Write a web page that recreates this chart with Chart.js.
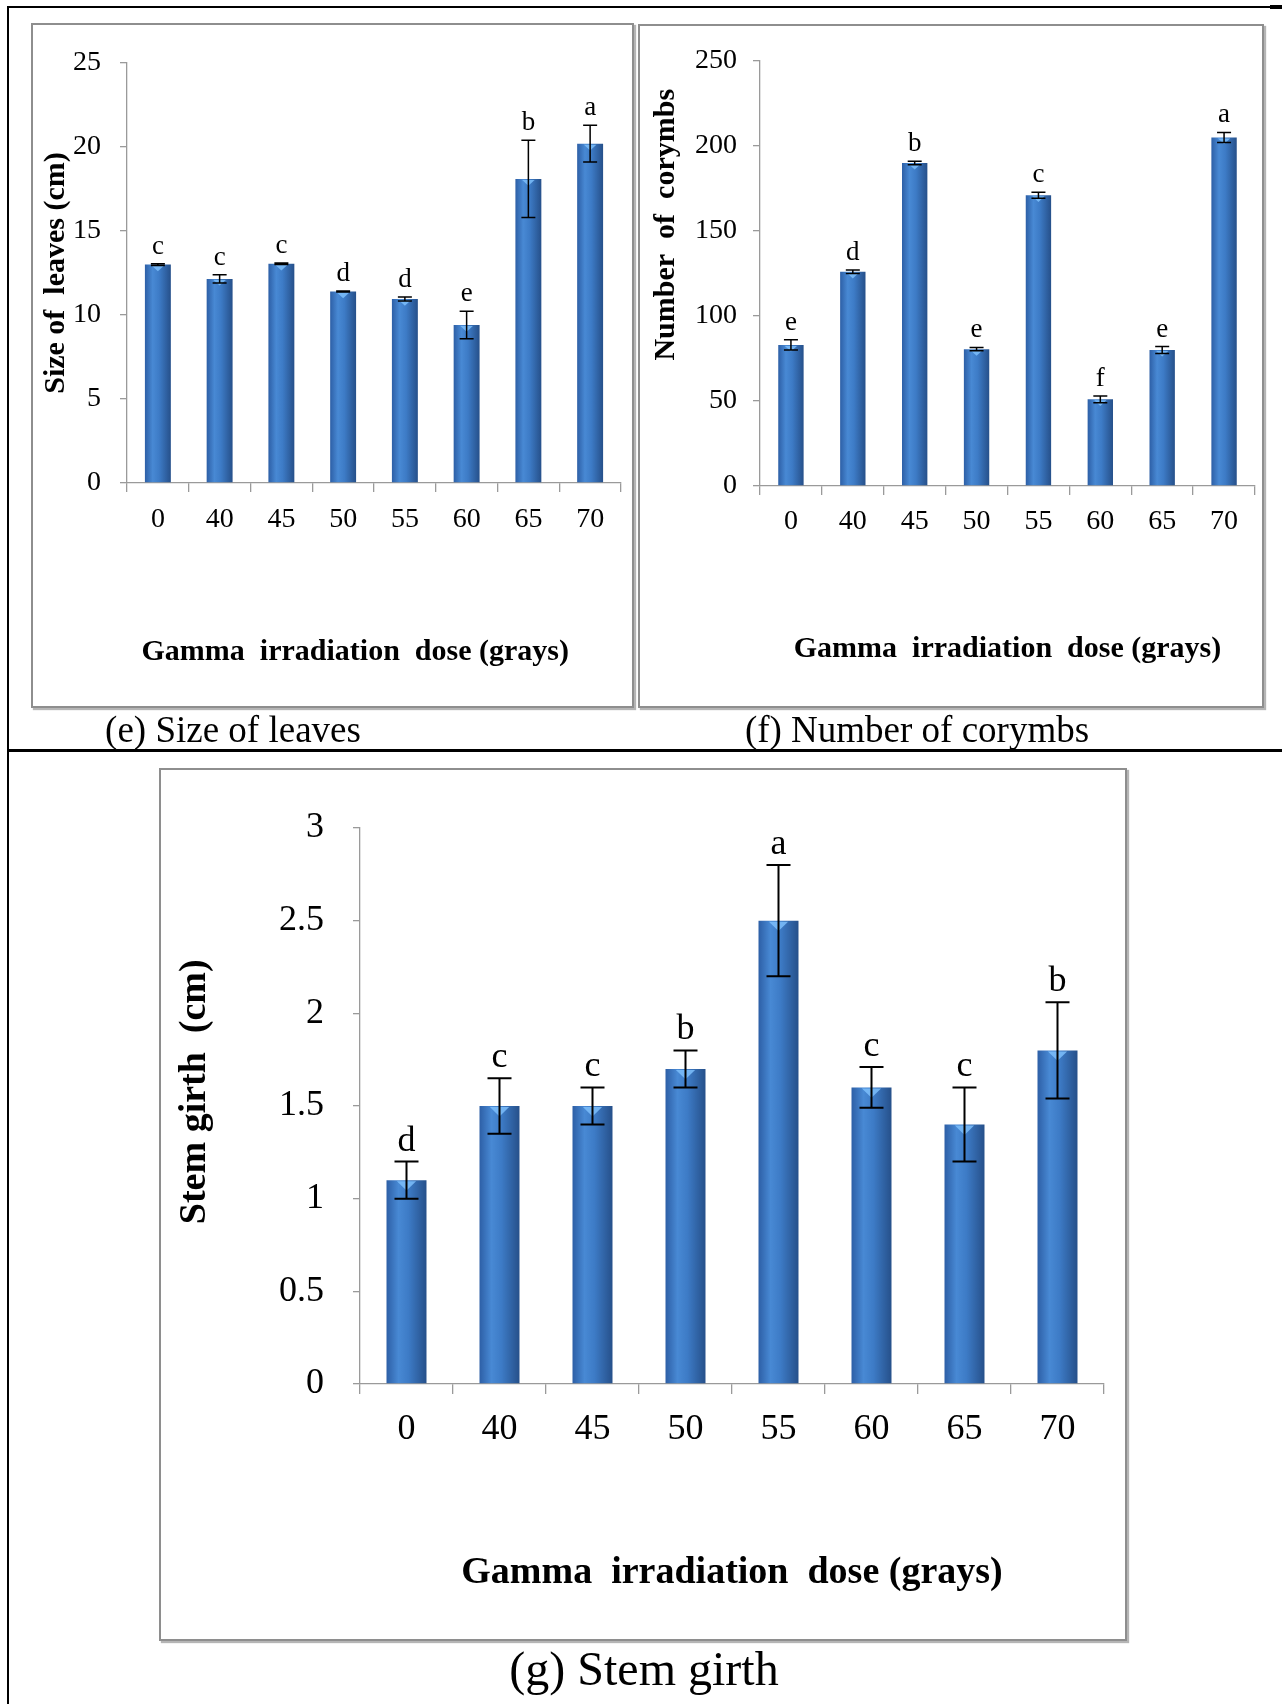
<!DOCTYPE html>
<html>
<head>
<meta charset="utf-8">
<script src="https://cdn.jsdelivr.net/npm/chart.js@4.4.1/dist/chart.umd.min.js"></script>
<style>
  body { margin: 0; background: #fff; width: 1282px; height: 1704px; position: relative; overflow: hidden; font-family: "Liberation Serif", serif; }
  .line { position: absolute; background: #000; }
  .box { position: absolute; border: 2px solid #8e8e8e; box-shadow: 2px 2px 1px #b5b5b5; box-sizing: border-box; }
  canvas { position: absolute; }
  .cap { position: absolute; transform: translate(-50%, -50%); white-space: nowrap; color: #000; }
</style>
</head>
<body>
<div class="line" style="left:8px;top:6px;width:1274px;height:2px"></div>
<div class="line" style="left:1270px;top:5px;width:12px;height:4px"></div>
<div class="line" style="left:7px;top:6px;width:2px;height:1698px"></div>
<div class="line" style="left:8px;top:749px;width:1274px;height:3px"></div>

<div class="box" style="left:31px;top:23px;width:603px;height:685px"></div>
<canvas id="leaves" width="603" height="685" style="left:31px;top:23px"></canvas>
<div class="cap" style="left:233px;top:729px;font-size:37px">(e) Size of leaves</div>

<div class="box" style="left:638px;top:24px;width:626px;height:684px"></div>
<canvas id="corymbs" width="626" height="684" style="left:638px;top:24px"></canvas>
<div class="cap" style="left:917px;top:729px;font-size:37px">(f) Number of corymbs</div>

<div class="box" style="left:159px;top:768px;width:968px;height:873px"></div>
<canvas id="girth" width="968" height="873" style="left:159px;top:768px"></canvas>
<div class="cap" style="left:644px;top:1668px;font-size:48px">(g) Stem girth</div>

<script>
// doses on the x axis (grays)
const doses = ['0', '40', '45', '50', '55', '60', '65', '70'];

// (e) size of leaves (cm)
const leafSize = [13.0, 12.15, 13.05, 11.4, 10.95, 9.4, 18.1, 20.2];
const leafErr = [0.05, 0.25, 0.05, 0.03, 0.12, 0.82, 2.3, 1.1];
const leafLetters = ['c', 'c', 'c', 'd', 'd', 'e', 'b', 'a'];

// (f) number of corymbs
const corymbs = [83, 126, 190, 80.5, 171, 51, 80, 205];
const corymbErr = [3, 1, 1, 1, 1.8, 2, 2, 3];
const corymbLetters = ['e', 'd', 'b', 'e', 'c', 'f', 'e', 'a'];

// (g) stem girth (cm)
const girth = [1.1, 1.5, 1.5, 1.7, 2.5, 1.6, 1.4, 1.8];
const girthErr = [0.1, 0.15, 0.1, 0.1, 0.3, 0.11, 0.2, 0.26];
const girthLetters = ['d', 'c', 'c', 'b', 'a', 'c', 'c', 'b'];

const FONT = '"Liberation Serif", "Times New Roman", serif';
const AXIS = '#9a9a9a';

// blue cylinder-ish fill, worked out from the x scale so it follows each bar
function barFill(context) {
  const chart = context.chart;
  const x = chart.scales.x;
  if (!x || !chart.chartArea) return '#3b78c4';
  const px = x.getPixelForValue(context.dataIndex);
  const pct = context.dataset.barPercentage;
  const half = x.width / chart.data.labels.length * pct / 2;
  const g = chart.ctx.createLinearGradient(px - half, 0, px + half, 0);
  g.addColorStop(0, '#2d5fa6');
  g.addColorStop(0.3, '#4889d4');
  g.addColorStop(0.55, '#3d7bc6');
  g.addColorStop(1, '#26508a');
  return g;
}

// highlight, error bars and letters on top of each bar
const barDecor = {
  id: 'barDecor',
  afterDatasetsDraw(chart) {
    const ctx = chart.ctx;
    const ds = chart.data.datasets[0];
    const meta = chart.getDatasetMeta(0);
    const y = chart.scales.y;
    ctx.save();
    meta.data.forEach((bar, i) => {
      const w = bar.width;
      ctx.fillStyle = 'rgba(125,190,250,0.85)';
      ctx.beginPath();
      ctx.moveTo(bar.x - w * 0.24, bar.y + 1);
      ctx.lineTo(bar.x + w * 0.24, bar.y + 1);
      ctx.lineTo(bar.x, bar.y + w * 0.26);
      ctx.closePath();
      ctx.fill();

      const v = ds.data[i], e = ds.errors[i];
      const yTop = y.getPixelForValue(v + e);
      const yBot = y.getPixelForValue(v - e);
      const cap = ds.capWidth / 2;
      ctx.strokeStyle = '#000';
      ctx.lineWidth = ds.errWidth;
      ctx.beginPath();
      ctx.moveTo(bar.x, yTop); ctx.lineTo(bar.x, yBot);
      ctx.moveTo(bar.x - cap, yTop); ctx.lineTo(bar.x + cap, yTop);
      ctx.moveTo(bar.x - cap, yBot); ctx.lineTo(bar.x + cap, yBot);
      ctx.stroke();

      ctx.fillStyle = '#000';
      ctx.font = ds.letterSize + 'px ' + FONT;
      ctx.textAlign = 'center';
      ctx.textBaseline = 'alphabetic';
      ctx.fillText(ds.letters[i], bar.x, yTop - ds.letterGap);
    });
    ctx.restore();
  }
};

function makeChart(id, s) {
  return new Chart(document.getElementById(id), {
    type: 'bar',
    data: {
      labels: doses,
      datasets: [{
        data: s.values,
        errors: s.errors,
        letters: s.letters,
        capWidth: s.capWidth,
        errWidth: s.errWidth,
        letterSize: s.letterSize,
        letterGap: s.letterGap,
        backgroundColor: barFill,
        borderWidth: 0,
        categoryPercentage: 1,
        barPercentage: s.barPct
      }]
    },
    options: {
      responsive: false,
      animation: false,
      layout: { padding: { left: 0, top: s.top, right: s.right, bottom: 0 } },
      plugins: { legend: { display: false }, tooltip: { enabled: false } },
      scales: {
        x: {
          grid: { offset: true, drawOnChartArea: false, drawTicks: true, tickLength: s.xTick, color: AXIS, lineWidth: 1.3 },
          border: { color: AXIS, width: 1.3 },
          ticks: { color: '#000', font: { family: FONT, size: s.tickSize }, padding: s.xPad, maxRotation: 0, autoSkip: false },
          title: {
            display: true, text: s.xTitle, color: '#000',
            font: { family: FONT, size: s.xTitleSize, weight: 'bold' },
            padding: { top: 0, bottom: s.xTitlePad }
          },
          afterFit: sc => { sc.height = s.xHeight; }
        },
        y: {
          min: 0, max: s.max,
          grid: { drawOnChartArea: false, drawTicks: true, tickLength: 7, color: AXIS, lineWidth: 1.3 },
          border: { color: AXIS, width: 1.3 },
          ticks: {
            stepSize: s.step, color: '#000', font: { family: FONT, size: s.tickSize }, padding: s.yPad,
            callback: v => String(v)
          },
          title: {
            display: true, text: s.yTitle, color: '#000',
            font: { family: FONT, size: s.yTitleSize, weight: 'bold' },
            padding: { top: s.yTitlePad, bottom: 0 }
          },
          afterFit: sc => { sc.width = s.yWidth; }
        }
      }
    },
    plugins: [barDecor]
  });
}

makeChart('leaves', {
  values: leafSize, errors: leafErr, letters: leafLetters,
  max: 25, step: 5,
  yTitle: 'Size of  leaves (cm)', xTitle: 'Gamma  irradiation  dose (grays)     ',
  top: 40, right: 13, yWidth: 96, xHeight: 225,
  tickSize: 28, xTick: 9, xPad: 11, yPad: 19,
  xTitleSize: 30, xTitlePad: 38, yTitleSize: 30, yTitlePad: 7,
  barPct: 0.42, capWidth: 14, errWidth: 1.5, letterSize: 27, letterGap: 10
});

makeChart('corymbs', {
  values: corymbs, errors: corymbErr, letters: corymbLetters,
  max: 250, step: 50,
  yTitle: '             Number  of  corymbs', xTitle: 'Gamma  irradiation  dose (grays)',
  top: 37, right: 9, yWidth: 122, xHeight: 222,
  tickSize: 28, xTick: 9, xPad: 10, yPad: 16,
  xTitleSize: 30, xTitlePad: 41, yTitleSize: 30, yTitlePad: 10,
  barPct: 0.41, capWidth: 14, errWidth: 1.5, letterSize: 27, letterGap: 10
});

makeChart('girth', {
  values: girth, errors: girthErr, letters: girthLetters,
  max: 3, step: 0.5,
  yTitle: '   Stem girth  (cm)', xTitle: 'Gamma  irradiation  dose (grays)',
  top: 60, right: 23, yWidth: 201, xHeight: 257,
  tickSize: 36, xTick: 10, xPad: 14, yPad: 29,
  xTitleSize: 38, xTitlePad: 45, yTitleSize: 38, yTitlePad: 13,
  barPct: 0.43, capWidth: 24, errWidth: 2, letterSize: 36, letterGap: 11
});
</script>
</body>
</html>
